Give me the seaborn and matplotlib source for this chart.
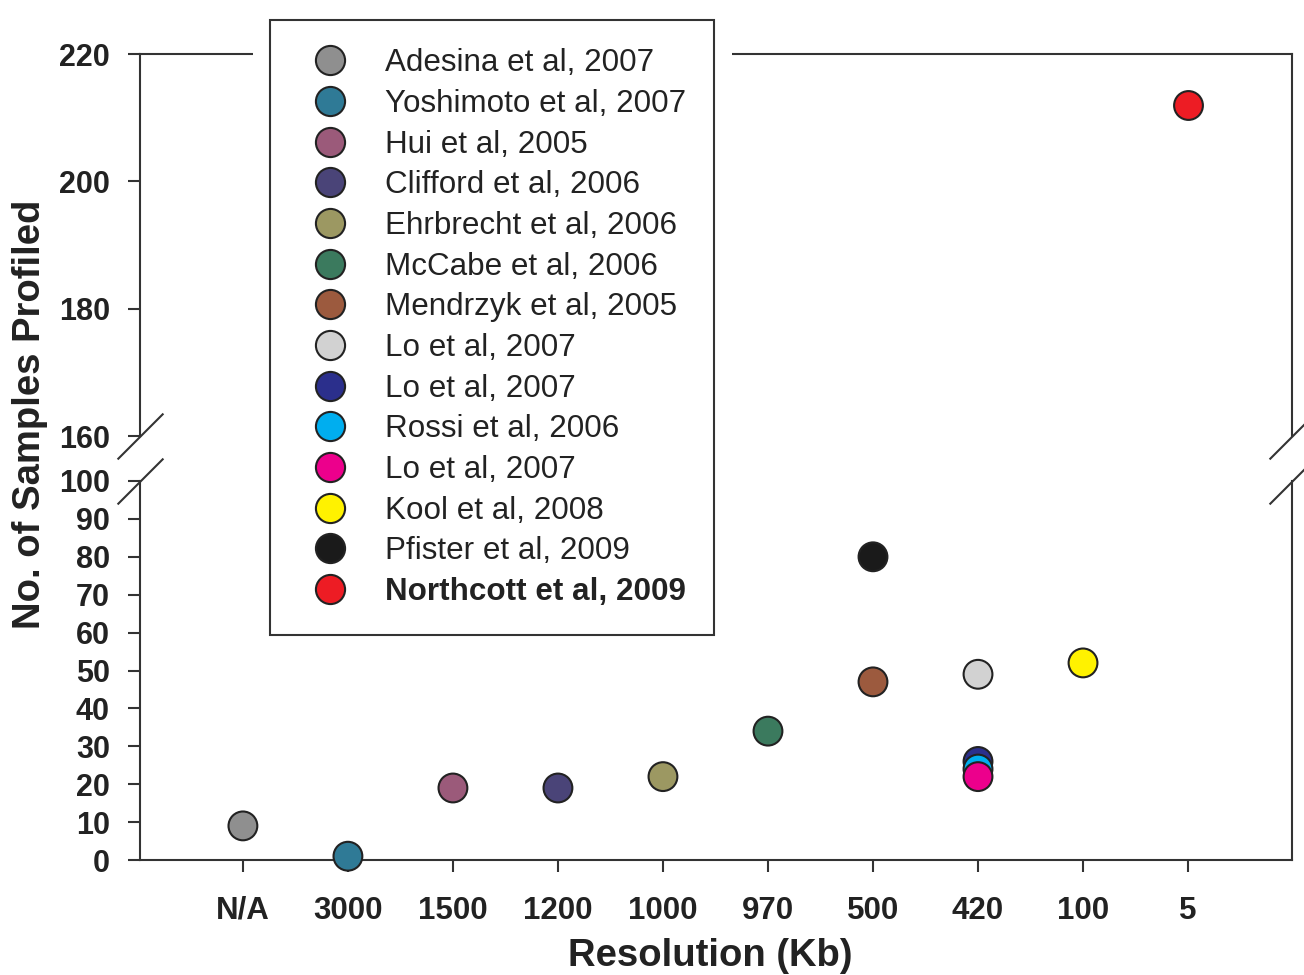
import pandas as pd
import matplotlib.pyplot as plt
import seaborn as sns
from matplotlib.lines import Line2D
from matplotlib.patches import Rectangle

# --- Datos ---
studies = ["Adesina et al, 2007", "Yoshimoto et al, 2007", "Hui et al, 2005",
           "Clifford et al, 2006", "Ehrbrecht et al, 2006", "McCabe et al, 2006",
           "Mendrzyk et al, 2005", "Lo et al, 2007", "Lo et al, 2007",
           "Rossi et al, 2006", "Lo et al, 2007", "Kool et al, 2008",
           "Pfister et al, 2009", "Northcott et al, 2009"]
resolution = ["N/A", "3000", "1500", "1200", "1000", "970", "500", "420", "420",
              "420", "420", "100", "500", "5"]
samples = [9, 1, 19, 19, 22, 34, 47, 49, 26, 24, 22, 52, 80, 212]
colors = ["#8f8f8f", "#2f7a96", "#9b5a7a", "#4a4478", "#9c9862", "#3b7a5e",
          "#9c5a3e", "#d2d2d2", "#2b2f8c", "#00aeef", "#ec008c", "#fff200",
          "#1a1a1a", "#ed1c24"]
tick_labels = ["N/A", "3000", "1500", "1200", "1000", "970", "500", "420", "100", "5"]

df = pd.DataFrame({"study": studies, "res": resolution, "n": samples})
df["key"] = [f"{i}" for i in range(len(df))]
df["x"] = [tick_labels.index(r) for r in df["res"]]
palette = dict(zip(df["key"], colors))

# --- Estilo ---
sns.set_style("ticks")
plt.rcParams["font.family"] = ["Liberation Sans", "DejaVu Sans"]
dark = "#333333"
txt = "#222222"

W, H = 1304, 975
fig = plt.figure(figsize=(W / 100, H / 100), dpi=100)


def box(l, t, r, b):
    return [l / W, 1 - b / H, (r - l) / W, (b - t) / H]


ax_top = fig.add_axes(box(140, 54, 1292, 436))
ax_bot = fig.add_axes(box(140, 481, 1292, 860))

low = df[df["n"] <= 100]
high = df[df["n"] >= 160]
for ax, sub in [(ax_bot, low), (ax_top, high)]:
    sns.scatterplot(data=sub, x="x", y="n", hue="key", palette=palette, s=430,
                    edgecolor=txt, linewidth=1.5, legend=False, ax=ax,
                    clip_on=False, zorder=3)
    ax.set_xlim(-0.98, 9.99)
    ax.set_xlabel("")
    ax.set_ylabel("")
    for s in ax.spines.values():
        s.set_color(dark)
        s.set_linewidth(1.5)
    ax.tick_params(length=8.6, width=1.5, pad=13, labelsize=22,
                   color=dark, labelcolor=txt)

ax_bot.set_ylim(0, 100)
ax_bot.set_yticks(range(0, 101, 10))
ax_bot.set_xticks(range(len(tick_labels)))
ax_bot.set_xticklabels(tick_labels)
ax_bot.tick_params(axis="x", pad=17, labelsize=22.5)
ax_bot.spines["top"].set_visible(False)

ax_top.set_ylim(160, 220)
ax_top.set_yticks([160, 180, 200, 220])
ax_top.tick_params(axis="x", bottom=False, labelbottom=False)
ax_top.spines["bottom"].set_visible(False)

for ax in (ax_top, ax_bot):
    for lab in ax.get_xticklabels() + ax.get_yticklabels():
        lab.set_fontweight("bold")

# marcas de corte del eje
brk = dict(marker=[(-1, -1), (1, 1)], markersize=33, mew=1.5, color=dark,
           clip_on=False, linestyle="none")
for xa in (0, 1):
    ax_top.plot([xa], [0], transform=ax_top.transAxes, **brk)
    ax_bot.plot([xa], [1], transform=ax_bot.transAxes, **brk)

# etiquetas de ejes
fig.text(710 / W, 1 - 956 / H, "Resolution (Kb)", ha="center", va="center",
         fontsize=27.5, fontweight="bold", color=txt)
fig.text(30 / W, 1 - 414 / H, "No. of Samples Profiled", ha="center",
         va="center", rotation=90, fontsize=27.5, fontweight="bold", color=txt)

# --- Leyenda ---
fig.add_artist(Rectangle((253 / W, 1 - 645 / H), (732 - 253) / W, (645 - 10) / H,
                         transform=fig.transFigure, facecolor="white",
                         edgecolor="none", zorder=3))
handles = [Line2D([], [], marker="o", linestyle="none", markersize=21,
                  markerfacecolor=c, markeredgecolor=txt, markeredgewidth=1.5)
           for c in colors]
leg = fig.legend(handles, studies, loc="upper left",
                 bbox_to_anchor=(270 / W, 1 - 20 / H), borderaxespad=0,
                 frameon=True, fancybox=False, fontsize=22.6, borderpad=0.9,
                 handlelength=2.02, handletextpad=0.74, labelspacing=0.34)
leg.get_frame().set_edgecolor(dark)
leg.get_frame().set_linewidth(1.5)
leg.get_frame().set_alpha(1)
for t in leg.get_texts():
    t.set_color(txt)
leg.get_texts()[-1].set_fontweight("bold")

fig.savefig("out.png", dpi=100)
